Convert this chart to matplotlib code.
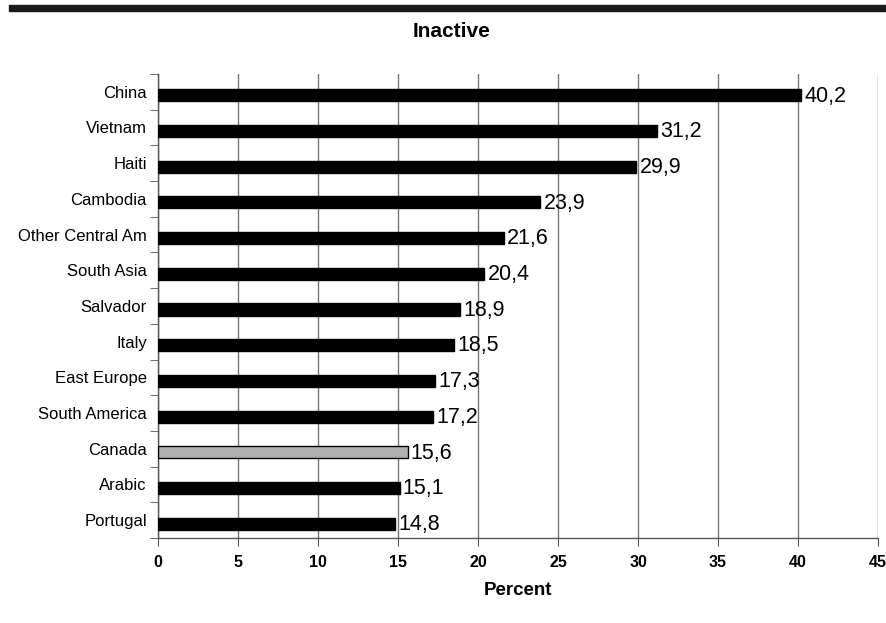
import matplotlib
matplotlib.use("Agg")
import numpy as np
from matplotlib import pyplot as plt
from matplotlib.patches import Rectangle

plt.rcParams['font.family'] = ['Liberation Sans', 'DejaVu Sans']

countries = ["China", "Vietnam", "Haiti", "Cambodia", "Other Central Am",
             "South Asia", "Salvador", "Italy", "East Europe", "South America",
             "Canada", "Arabic", "Portugal"]
values = [40.2, 31.2, 29.9, 23.9, 21.6, 20.4, 18.9, 18.5, 17.3, 17.2,
          15.6, 15.1, 14.8]
highlight = "Canada"
xticks = [0, 5, 10, 15, 20, 25, 30, 35, 40, 45]

fig = plt.figure(figsize=(8.87, 6.23), dpi=100)
ax = fig.add_axes([0.178, 0.1364, 0.812, 0.745])

n = len(countries)
pos = np.arange(n)
colors = ["#b0b0b0" if c == highlight else "black" for c in countries]
ax.barh(pos + 0.1, values, height=0.34, color=colors,
        edgecolor="black", linewidth=1.0, zorder=3)

# value labels with decimal comma
for p, v in zip(pos, values):
    ax.text(v + 0.2, p + 0.12, f"{v:.1f}".replace(".", ","),
            va="center", ha="left", fontsize=15.5)

ax.set_xlim(0, 45)
ax.set_ylim(n - 0.5, -0.5)
ax.set_xticks(xticks)
ax.set_xticklabels([str(t) for t in xticks], fontsize=11.5, fontweight="bold")
ax.set_yticks(pos)
ax.set_yticklabels(countries, fontsize=12)
ax.set_yticks(np.arange(n + 1) - 0.5, minor=True)
ax.tick_params(axis="y", which="major", length=0, pad=8)
ax.tick_params(axis="y", which="minor", length=6, color="#555555")
ax.tick_params(axis="x", length=6, color="#555555", pad=6)

ax.grid(axis="x", color="#777777", linewidth=1.0, zorder=0)
for s in ["top", "right"]:
    ax.spines[s].set_visible(False)
for s in ["left", "bottom"]:
    ax.spines[s].set_color("#555555")
    ax.spines[s].set_linewidth(1.0)

ax.set_xlabel("Percent", fontsize=13.5, fontweight="bold", labelpad=9)
fig.text(0.509, 0.949, "Inactive", ha="center", va="center",
         fontsize=15, fontweight="bold")

fig.add_artist(Rectangle((0.0101, 0.9823), 0.99, 0.0096,
                         transform=fig.transFigure, color="#1a1a1a"))

fig.savefig("out.png", dpi=100)
